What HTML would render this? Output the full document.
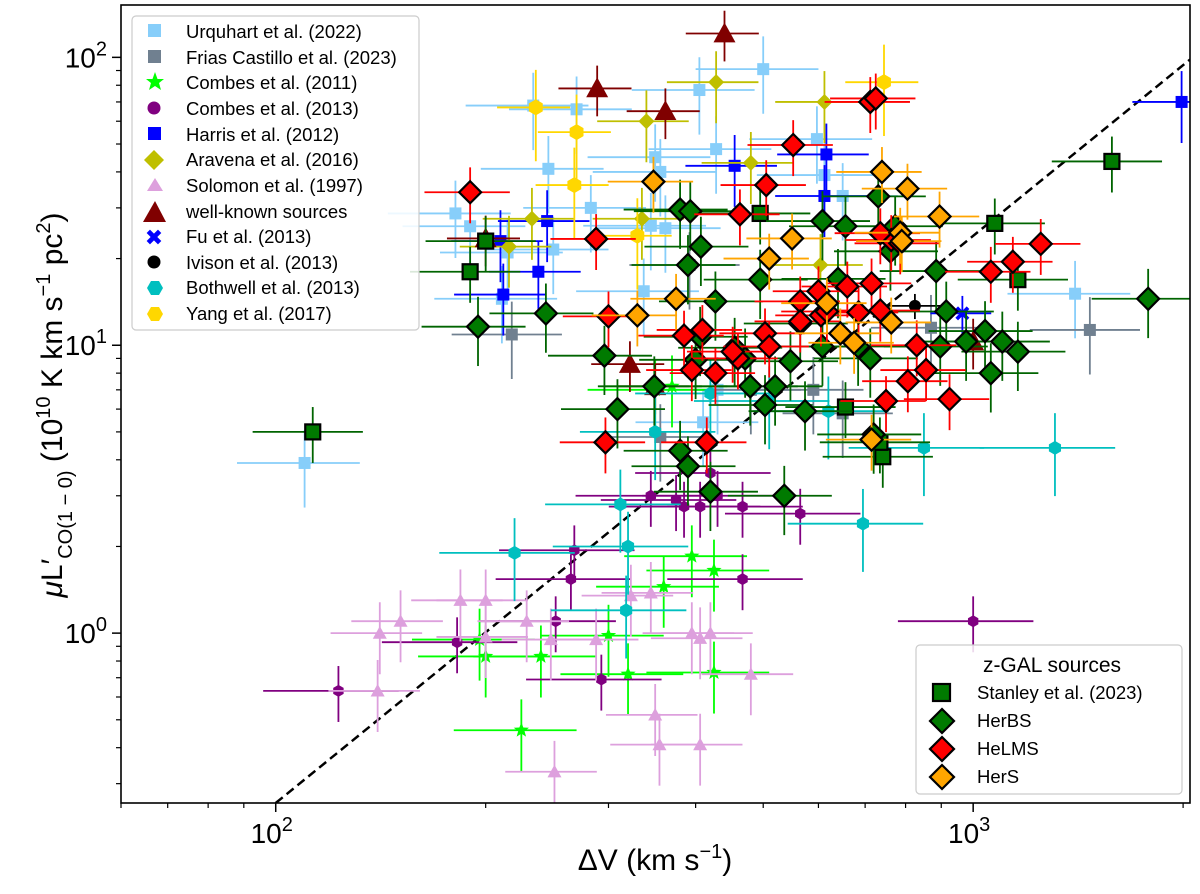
<!DOCTYPE html>
<html><head><meta charset="utf-8"><style>
body{margin:0;background:#fff}
svg{display:block;font-family:"Liberation Sans","DejaVu Sans",sans-serif}
</style></head><body>
<svg id="chart" width="1200" height="894" xmlns="http://www.w3.org/2000/svg"></svg>
<script>
// ---- data (ΔV km/s, μL' 1e10 K km/s pc^2) ----
const urqX=[110,234,270,246,500,405,428,350,356,597,612,181,190,211,250,283,337,345,362,650,1400,215,410,430];
const urqY=[3.9,68,66,41,91,77,48,45,40,52,39,28.7,25.9,14.5,21.5,30,15.4,26,25.5,33,15.1,21,5.4,7];
const friasX=[218,356,480,590,870,1470,392,650];
const friasY=[10.9,4.8,7,7,11.5,11.3,19,5.8];
const comb11X=[196,225,200,240,300,320,360,395,425,425,350,370];
const comb11Y=[0.95,0.46,0.83,0.83,0.98,0.72,1.45,1.85,1.65,0.73,7,7.2];
const comb13X=[123,182,252,268,265,293,345,375,406,430,467,565,467,1000,385,420];
const comb13Y=[0.63,0.93,1.1,1.94,1.54,0.69,3.0,2.9,2.75,3.0,2.75,2.6,1.54,1.1,2.75,3.6];
const harrisX=[212,238,1990,616,612,455,210,245];
const harrisY=[15,18,70,46,33,42,23,27];
const aravX=[428,612,340,233,335,480,604,216];
const aravY=[82,70,60,27.5,27.5,43,19,22];
const solX=[151,141,140,184,200,200,229,248,251,323,345,350,355,406,406,395,420,480,288];
const solY=[1.1,1.0,0.63,1.3,1.3,0.97,1.1,0.95,0.33,1.35,1.38,0.52,0.41,0.41,0.96,1.0,1.0,0.72,0.95];
const wkX=[440,289,362,200,322,350,1000];
const wkY=[121,78,65,23.5,8.6,7.2,10.3];
const fuX=[965], fuY=[12.9];
const ivX=[825], ivY=[13.7];
const bothX=[220,320,312,350,420,510,695,1310,318,850,620];
const bothY=[1.9,2.0,2.8,5.0,6.8,6.4,2.4,4.4,1.2,4.4,5.9];
const yangX=[236,270,268,745,330];
const yangY=[67,55,36,82,24];
const stanX=[113,200,190,495,1074,1581,1159,656,742,735];
const stanY=[5.0,23,18,28.7,26.5,43.5,16.9,6.1,4.1,4.6];
const herbsX=[195,244,296,309,349,455,471,479,503,520,536,547,565,608,608,656,684,712,731,761,773,885,897,915,977,1040,1101,1159,1782,380,393,406,427,495,574,390,380,420,400,407,390,640,720,1060];
const herbsY=[11.6,12.9,9.2,6.0,7.2,9.8,9.0,7.2,6.2,7.2,3.0,8.8,11.9,9.9,27,25.9,9.9,9.0,32.9,21.2,25.9,18.1,9.9,13.1,10.3,11.2,10.3,9.5,14.5,29.6,29.2,10.7,14.2,16.9,5.9,3.8,4.3,3.1,8.9,22,19,17,4.9,8.0];
const helmsX=[190,288,300,297,415,395,427,460,463,505,552,503,510,565,600,605,617,660,685,715,736,763,786,736,712,725,750,806,830,925,856,1060,1140,1250,452,385,409,565];
const helmsY=[34,23.4,12.6,4.6,4.6,8.2,8,9,28.5,36,49.6,11,9.9,14.2,15.4,12.7,13.1,16,13,16.4,13.2,23.2,22.6,24.5,70,72,6.4,7.5,10,6.5,8.2,18,19.5,22.5,9.5,10.8,11.3,12.1];
const hersX=[348,330,375,510,550,617,645,675,740,805,786,790,895,715,763];
const hersY=[37,12.7,14.5,20,23.5,14,11,10.2,40,35,24.6,23,28,4.7,12];
const xTicks=[100,1000], xTickLabels=["2","3"];
const yTicks=[1,10,100], yTickLabels=["0","1","2"];

const L=121,R=1190,T=5,B=803;
const lx0=Math.log10(60),lx1=Math.log10(2046),ly0=Math.log10(0.257),ly1=Math.log10(152);
const X=v=>L+(Math.log10(v)-lx0)/(lx1-lx0)*(R-L);
const Y=v=>B-(Math.log10(v)-ly0)/(ly1-ly0)*(B-T);
const svg=document.getElementById('chart');
const NS="http://www.w3.org/2000/svg";
function mk(tag,attrs,parent){const e=document.createElementNS(NS,tag);for(const k in attrs)e.setAttribute(k,attrs[k]);(parent||svg).appendChild(e);return e;}

const clip=mk('clipPath',{id:'pc'});mk('rect',{x:L,y:T,width:R-L,height:B-T},clip);
const plot=mk('g',{'clip-path':'url(#pc)'});



function marker(type,cx,cy,s,fill,stroke,sw,parent){
  let e;
  if(type==='s')e=mk('rect',{x:cx-s,y:cy-s,width:2*s,height:2*s},parent);
  else if(type==='d')e=mk('polygon',{points:`${cx},${cy-s} ${cx+s},${cy} ${cx},${cy+s} ${cx-s},${cy}`},parent);
  else if(type==='o')e=mk('circle',{cx:cx,cy:cy,r:s},parent);
  else if(type==='^')e=mk('polygon',{points:`${cx},${cy-s} ${cx+s},${cy+s*0.8} ${cx-s},${cy+s*0.8}`},parent);
  else if(type==='h'){let p=[];for(let i=0;i<6;i++){const a=Math.PI/6+i*Math.PI/3;p.push((cx+s*Math.cos(a))+','+(cy+s*Math.sin(a)));}e=mk('polygon',{points:p.join(' ')},parent);}
  else if(type==='*'){let p=[];for(let i=0;i<10;i++){const a=-Math.PI/2+i*Math.PI/5,r=i%2?s*0.42:s;p.push((cx+r*Math.cos(a))+','+(cy+r*Math.sin(a)));}e=mk('polygon',{points:p.join(' ')},parent);}
  else if(type==='x'){const w=s*0.38;e=mk('path',{d:`M${cx-s},${cy-s+w}L${cx-s+w},${cy-s}L${cx},${cy-w}L${cx+s-w},${cy-s}L${cx+s},${cy-s+w}L${cx+w},${cy}L${cx+s},${cy+s-w}L${cx+s-w},${cy+s}L${cx},${cy+w}L${cx-s+w},${cy+s}L${cx-s},${cy+s-w}L${cx-w},${cy}Z`},parent);}
  e.setAttribute('fill',fill);if(stroke){e.setAttribute('stroke',stroke);e.setAttribute('stroke-width',sw);}
  return e;
}
function series(name,xs,ys,type,s,fill,ecol,stroke,ex,ey){
  const g=mk('g',{},plot);
  
  
  xs.forEach((v,i)=>{
    const cx=X(v),cy=Y(ys[i]);
    mk('line',{x1:X(v*(1-ex)),x2:X(v*(1+ex)),y1:cy,y2:cy,stroke:ecol,'stroke-width':1.8},g);
    mk('line',{x1:cx,x2:cx,y1:Y(ys[i]*(1-ey)),y2:Y(ys[i]*(1+ey)),stroke:ecol,'stroke-width':1.8},g);
  });
  xs.forEach((v,i)=>{
    const m=marker(type,X(v),Y(ys[i]),s,fill,stroke,2.2,g);
    
    
  });
}
const dl=mk('line',{x1:X(100),y1:Y(0.257),x2:X(2046),y2:Y(0.257*Math.pow(20.46,1.97)),stroke:'#000','stroke-width':2.5,'stroke-dasharray':'9,5'},plot);


series('urquhart',urqX,urqY,'s',6,'#87cefa','#87cefa',null,0.2,0.3);
series('frias-castillo',friasX,friasY,'s',6,'#708090','#708090',null,0.18,0.3);
series('combes-2011',comb11X,comb11Y,'*',8,'#00ff00','#00ff00',null,0.2,0.28);
series('combes-2013',comb13X,comb13Y,'h',6,'#800080','#800080',null,0.22,0.22);
series('harris',harrisX,harrisY,'s',6,'#0000ff','#0000ff',null,0.15,0.28);
series('aravena',aravX,aravY,'d',8,'#bfbf00','#bfbf00',null,0.15,0.28);
series('solomon',solX,solY,'^',7,'#dda0dd','#dda0dd',null,0.15,0.28);
series('well-known',wkX,wkY,'^',11,'#800000','#800000',null,0.12,0.2);
series('fu',fuX,fuY,'x',7,'#0000ff','#0000ff',null,0.1,0.15);
series('ivison',ivX,ivY,'o',6,'#000','#000',null,0.1,0.1);
series('bothwell',bothX,bothY,'h',7,'#00bfbf','#00bfbf',null,0.22,0.32);
series('yang',yangX,yangY,'h',8,'#ffd700','#ffd700',null,0.12,0.35);
series('stanley',stanX,stanY,'s',7.5,'#007a00','#006400','#000',0.18,0.22);
series('herbs',herbsX,herbsY,'d',11,'#007a00','#006400','#000',0.17,0.27);
series('helms',helmsX,helmsY,'d',11,'#ff0000','#ff0000','#000',0.14,0.22);
series('hers',hersX,hersY,'d',11,'#ffa500','#ffa500','#000',0.14,0.22);

const fr=mk('rect',{x:L,y:T,width:R-L,height:B-T,fill:'none',stroke:'#000','stroke-width':1.6});

const ax=mk('g',{});
[60,70,80,90,200,300,400,500,600,700,800,900,2000].forEach(v=>mk('line',{x1:X(v),x2:X(v),y1:B,y2:B+5,stroke:'#000','stroke-width':1.2},ax));
[0.3,0.4,0.5,0.6,0.7,0.8,0.9,2,3,4,5,6,7,8,9,20,30,40,50,60,70,80,90].forEach(v=>mk('line',{x1:L,x2:L-5,y1:Y(v),y2:Y(v),stroke:'#000','stroke-width':1.2},ax));
xTicks.forEach((v,i)=>{
  mk('line',{x1:X(v),x2:X(v),y1:B,y2:B+9,stroke:'#000','stroke-width':1.5},ax);
  const t=mk('text',{x:X(v)-4,y:B+40,'font-size':28,'text-anchor':'middle'},ax);
  
  t.innerHTML='10<tspan dy="-12" font-size="20">'+xTickLabels[i]+'</tspan>';
});
yTicks.forEach((v,i)=>{
  mk('line',{x1:L,x2:L-9,y1:Y(v),y2:Y(v),stroke:'#000','stroke-width':1.5},ax);
  const t=mk('text',{x:L-14,y:Y(v)+10,'font-size':28,'text-anchor':'end'},ax);
  
  t.innerHTML='10<tspan dy="-12" font-size="20">'+yTickLabels[i]+'</tspan>';
});
</script>
<svg style="position:absolute;left:0;top:0" width="1200" height="894" xmlns="http://www.w3.org/2000/svg" font-family="Liberation Sans, DejaVu Sans, sans-serif">
<text x="655" y="870" font-size="30" text-anchor="middle">ΔV (km s<tspan dy="-12" font-size="20">−1</tspan><tspan dy="12">)</tspan></text>
<text transform="translate(62,405) rotate(-90)" font-size="30" text-anchor="middle"><tspan font-style="italic">μ</tspan>L′<tspan dy="10" font-size="20">CO(1 − 0)</tspan><tspan dy="-10"> (10</tspan><tspan dy="-12" font-size="20">10</tspan><tspan dy="12"> K km s</tspan><tspan dy="-12" font-size="20">−1</tspan><tspan dy="12"> pc</tspan><tspan dy="-12" font-size="20">2</tspan><tspan dy="12">)</tspan></text>
<g font-size="18.5">
<rect x="132" y="16" width="287" height="314" rx="4" fill="#fff" fill-opacity="0.85" stroke="#ccc" stroke-width="1.2"/>
<rect x="148" y="24" width="13" height="13" fill="#87cefa"/><text x="186" y="38">Urquhart et al. (2022)</text>
<rect x="148" y="50" width="13" height="13" fill="#708090"/><text x="186" y="64">Frias Castillo et al. (2023)</text>
<polygon points="155,72 157.5,79 164,79 159,83 161,90 155,86 149,90 151,83 146,79 152.5,79" fill="#00ff00"/><text x="186" y="89">Combes et al. (2011)</text>
<circle cx="154" cy="108" r="6.5" fill="#800080"/><text x="186" y="115">Combes et al. (2013)</text>
<rect x="148" y="127" width="13" height="13" fill="#0000ff"/><text x="186" y="141">Harris et al. (2012)</text>
<polygon points="154,150 164,160 154,170 144,160" fill="#bfbf00"/><text x="186" y="166">Aravena et al. (2016)</text>
<polygon points="155,178 163,191 147,191" fill="#dda0dd"/><text x="186" y="192">Solomon et al. (1997)</text>
<polygon points="155,201 166,222 143,222" fill="#800000"/><text x="186" y="218">well-known sources</text>
<text x="154" y="245" font-size="22" font-weight="bold" fill="#0000ff" text-anchor="middle">✖</text><text x="186" y="243">Fu et al. (2013)</text>
<circle cx="154" cy="262" r="6.5" fill="#000"/><text x="186" y="269">Ivison et al. (2013)</text>
<polygon points="147,288 151,281 159,281 163,288 159,295 151,295" fill="#00bfbf"/><text x="186" y="294">Bothwell et al. (2013)</text>
<polygon points="147,314 151,307 159,307 163,314 159,321 151,321" fill="#ffd700"/><text x="186" y="320">Yang et al. (2017)</text>
</g>
<g font-size="18.5">
<rect x="916" y="645" width="266" height="149" rx="4" fill="#fff" fill-opacity="0.85" stroke="#ccc" stroke-width="1.2"/>
<text x="1052" y="672" font-size="21" text-anchor="middle">z-GAL sources</text>
<rect x="933" y="684" width="17" height="17" fill="#007a00" stroke="#000" stroke-width="2.2"/><text x="977" y="699">Stanley et al. (2023)</text>
<polygon points="942,709 954,721 942,733 930,721" fill="#007a00" stroke="#000" stroke-width="2.2"/><text x="977" y="727">HerBS</text>
<polygon points="942,737 954,749 942,761 930,749" fill="#ff0000" stroke="#000" stroke-width="2.2"/><text x="977" y="755">HeLMS</text>
<polygon points="942,765 954,777 942,789 930,777" fill="#ffa500" stroke="#000" stroke-width="2.2"/><text x="977" y="783">HerS</text>
</g>
</svg>
</body></html>
